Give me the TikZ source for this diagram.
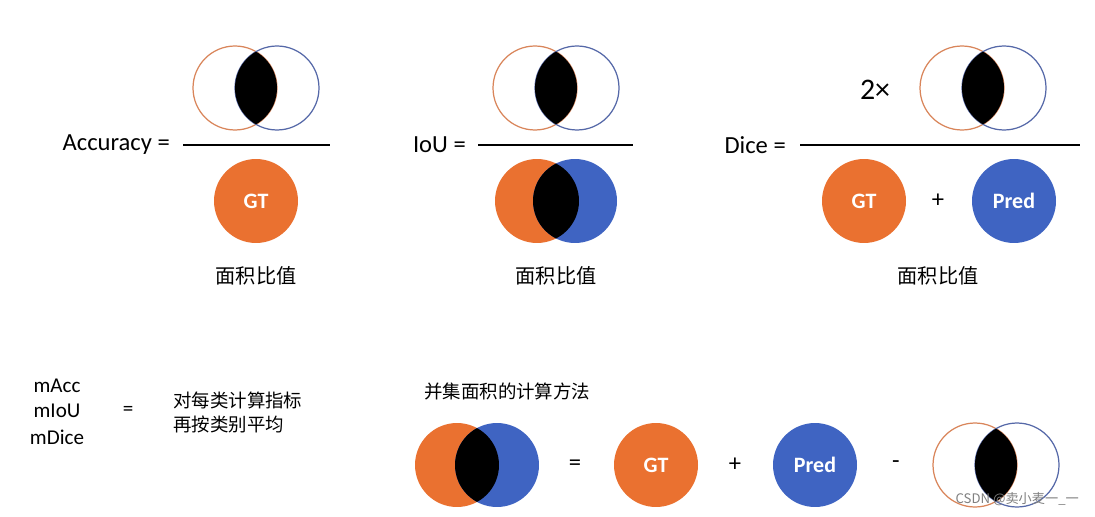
\documentclass[tikz,border=0pt]{standalone}
\usepackage{fontspec}
\setmainfont{Carlito}
\newfontfamily\cjk{Noto Sans CJK SC}
\definecolor{og}{HTML}{EA7130}
\definecolor{bl}{HTML}{3F64C2}
\definecolor{ogl}{HTML}{D9855A}
\definecolor{bll}{HTML}{5568A8}
\newcommand\myR{0.84cm}
\newcommand\lensat[2]{\begin{scope}\clip (#1) circle(\myR);\fill[black] (#2) circle(\myR);\end{scope}}
\newcommand\outlinepair[2]{\draw[ogl,line width=0.7pt] (#1) circle(\myR);\draw[bll,line width=0.7pt] (#2) circle(\myR);\lensat{#1}{#2}}
\newcommand\filledpair[2]{\fill[og] (#1) circle(\myR);\fill[bl] (#2) circle(\myR);\lensat{#1}{#2}}
\tikzset{lbl/.style={font=\fontsize{14}{16}\selectfont},
 cl/.style={font=\cjk\fontsize{11.5}{13}\selectfont},
 inw/.style={text=white,font=\bfseries\fontsize{12.5}{14}\selectfont},
 frac/.style={line width=1pt}}
\begin{document}
\begin{tikzpicture}[x=0.02cm,y=-0.02cm]
\useasboundingbox[fill=white] (0,0) rectangle (1095,517);
% Accuracy
\outlinepair{235,88}{277,88}
\draw[frac] (183,145) -- (330,145);
\node[lbl,anchor=east] (acc) at (176,145) {Accuracy =};
\fill[og] (256,201) circle(\myR);
\node[inw] (gt1) at (256,201) {GT};
\node[cl] (r1) at (256,276) {面积比值};
% IoU
\outlinepair{535,88}{577,88}
\draw[frac] (478,145) -- (633,145);
\node[lbl,anchor=east] (iou) at (472,145) {IoU =};
\filledpair{537,201}{575,201}
\node[cl] (r2) at (556,276) {面积比值};
% Dice
\node[lbl,font=\fontsize{17}{19}\selectfont] (two) at (875,90) {2×};
\outlinepair{962,88}{1004,88}
\draw[frac] (800,145) -- (1080,145);
\node[lbl,anchor=east] (dice) at (792,145) {Dice =};
\fill[og] (864,201) circle(\myR);
\node[inw] (gt2) at (864,201) {GT};
\node[lbl] (plus1) at (938,201) {+};
\fill[bl] (1014,201) circle(\myR);
\node[inw] (pred1) at (1014,201) {Pred};
\node[cl] (r3) at (938,276) {面积比值};
% mean
\node[lbl,font=\fontsize{12}{14}\selectfont] (ma) at (57,386) {mAcc};
\node[lbl,font=\fontsize{12}{14}\selectfont] (mi) at (57,411) {mIoU};
\node[lbl,font=\fontsize{12}{14}\selectfont] (md) at (57,437) {mDice};
\node[lbl,font=\fontsize{12}{14}\selectfont] (eq1) at (128,411) {=};
\node[cl,anchor=west,font=\cjk\fontsize{10.5}{12}\selectfont] (t1) at (167,400) {对每类计算指标};
\node[cl,anchor=west,font=\cjk\fontsize{10.5}{12}\selectfont] (t2) at (167,424) {再按类别平均};
% union
\node[cl,anchor=west,font=\cjk\fontsize{10.5}{12}\selectfont] (uh) at (418,391) {并集面积的计算方法};
\filledpair{457,465}{497,465}
\node[lbl] (eq2) at (575,465) {=};
\fill[og] (656,465) circle(\myR);
\node[inw] (gt3) at (656,465) {GT};
\node[lbl] (plus2) at (735,465) {+};
\fill[bl] (815,465) circle(\myR);
\node[inw] (pred2) at (815,465) {Pred};
\node[lbl] (minus) at (896,465) {-};
\outlinepair{975,465}{1017,465}
\node[anchor=east,text=gray,font=\cjk\fontsize{7.5}{9}\selectfont] (wm) at (1085,499) {CSDN @卖小麦一\_一};
\end{tikzpicture}
\end{document}
